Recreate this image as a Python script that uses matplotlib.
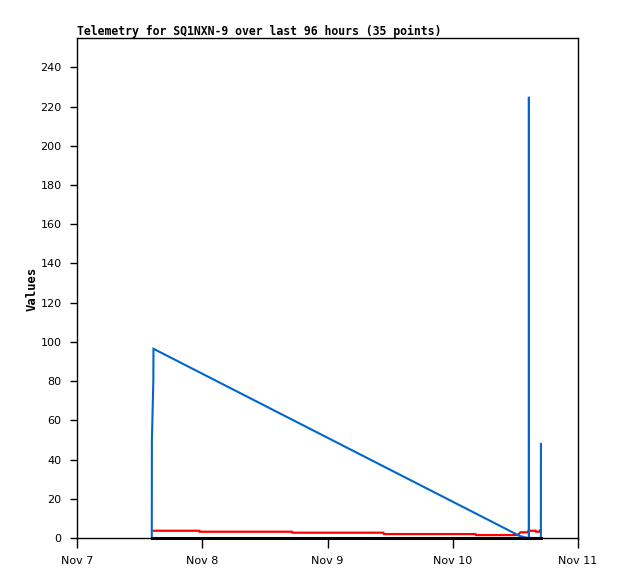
import matplotlib
matplotlib.use('Agg')
import matplotlib.pyplot as plt
import matplotlib.dates as mdates
from datetime import datetime, timedelta

# Time offsets in days since Nov 7 00:00
blue_t = [0.5970, 0.5980, 0.6095, 0.6105, 3.536, 3.600, 3.6075, 3.608, 3.6085, 3.7035, 3.704]
blue_v = [0, 50, 80, 96.5, 1.0, 0, 0, 225, 0, 0, 48]

red_t = [0.610, 0.976, 0.978, 1.716, 1.720, 2.446, 2.450, 3.182, 3.186, 3.520,
         3.540, 3.600, 3.605, 3.660, 3.665, 3.690, 3.695, 3.704]
red_v = [3.7, 3.7, 3.2, 3.2, 2.7, 2.7, 2.0, 2.0, 1.5, 1.5,
         2.9, 2.9, 3.7, 3.7, 3.2, 3.2, 3.8, 3.8]

black_t = [0.597, 3.704]
black_v = [0, 0]

title = "Telemetry for SQ1NXN-9 over last 96 hours (35 points)"
ylabel = "Values"
yticks = list(range(0, 241, 20))

base = datetime(2023, 11, 7)
def to_dt(ts):
    return [base + timedelta(days=t) for t in ts]

W, H = 618, 579
fig = plt.figure(figsize=(W / 100, H / 100), dpi=100)
ax = fig.add_axes([77 / W, (H - 538) / H, (578 - 77) / W, (538 - 38) / H])

ax.plot(to_dt(red_t), red_v, color='#ff0000', lw=1.6, solid_joinstyle='miter')
ax.plot(to_dt(blue_t), blue_v, color='#0066cc', lw=1.5, solid_joinstyle='miter')
ax.plot(to_dt(black_t), black_v, color='#000000', lw=2.2, clip_on=False)

ax.set_xlim(base, base + timedelta(days=4))
ax.set_ylim(0, 255)
ax.set_yticks(yticks)
ax.xaxis.set_major_locator(mdates.DayLocator())
ax.xaxis.set_major_formatter(mdates.DateFormatter('%b %-d'))

ax.tick_params(axis='both', direction='out', length=5, width=1, labelsize=8,
               colors='black', pad=6)
ax.tick_params(axis='x', length=7, pad=6)
for s in ax.spines.values():
    s.set_linewidth(1)
    s.set_color('black')

fig.text(77 / W, 1 - 31 / H, title, fontsize=8.3, fontweight='bold',
         family='DejaVu Sans Mono', ha='left', va='center')
fig.text(32 / W, 1 - 289 / H, ylabel, fontsize=8.8, fontweight='bold',
         family='DejaVu Sans Mono', ha='center', va='center', rotation=90)

fig.savefig('out.png', dpi=100)
